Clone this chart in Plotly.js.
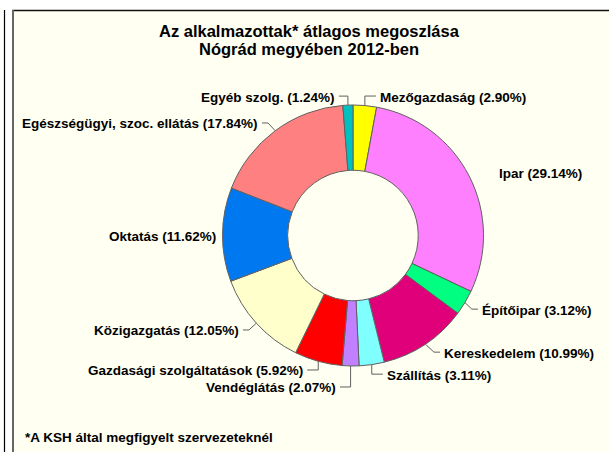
<!DOCTYPE html>
<html>
<head>
<meta charset="utf-8">
<script src="https://cdn.plot.ly/plotly-3.0.1.min.js"></script>
<style>
html,body{margin:0;padding:0;background:#fff;}
#chart{width:609px;height:452px;}
</style>
</head>
<body>
<div id="chart"></div>
<script>
// ---- data ----
var categories = ["Mezőgazdaság", "Ipar", "Építőipar", "Kereskedelem", "Szállítás", "Vendéglátás",
  "Gazdasági szolgáltatások", "Közigazgatás", "Oktatás", "Egészségügyi, szoc. ellátás", "Egyéb szolg."];
var shares = [2.90, 29.14, 3.12, 10.99, 3.11, 2.07, 5.92, 12.05, 11.62, 17.84, 1.24];
var sliceColors = ["#FFFF00", "#FF80FF", "#00FF80", "#E0007A", "#80FFFF", "#C080FF",
  "#FF0000", "#FFFFCC", "#0078F0", "#FF8080", "#00C0C0"];
var titleLines = ["Az alkalmazottak* átlagos megoszlása", "Nógrád megyében 2012-ben"];
var footnote = "*A KSH által megfigyelt szervezeteknél";

// ---- label layout (pixel offsets from slice edge at mid-angle; styling only) ----
var labelOffsets = [[13,-8.5],[28,-3],[15,7.5],[16.7,9],[13,10.5],[-12.6,22],[-13,9.7],[-15.4,7.8],[-5,1.5],[-15.3,-6.7],[-11,-8]];
var leaderStyle = ["v","none","d","d","v","v","v","d","none","d","v"];

var W = 609, H = 452;
var cx = 353, cy = 235.5, R = 130.5;
var FONT = "Arial, 'Liberation Sans', sans-serif";
function px(x){ return x / W; }
function py(y){ return 1 - y / H; }

var total = shares.reduce(function(a,b){return a+b;},0);
var annotations = [];
var shapes = [
  {type:"rect", xref:"paper", yref:"paper", x0:px(12), x1:1, y0:0, y1:py(10), fillcolor:"#FFFFF2", line:{width:0}, layer:"below"},
  {type:"line", xref:"paper", yref:"paper", x0:px(4.5), x1:px(4.5), y0:0, y1:py(10), line:{color:"#000", width:1.2}},
  {type:"line", xref:"paper", yref:"paper", x0:px(12), x1:1, y0:py(10.5), y1:py(10.5), line:{color:"#111", width:1.3}},
  {type:"line", xref:"paper", yref:"paper", x0:px(13), x1:px(13), y0:0, y1:py(10), line:{color:"#666", width:2}}
];

var cum = 0;
for (var i = 0; i < shares.length; i++) {
  var mid = (cum + shares[i] / 2) / total * 2 * Math.PI;
  cum += shares[i];
  var ex = cx + R * Math.sin(mid), ey = cy - R * Math.cos(mid);
  var lx = ex + labelOffsets[i][0], ly = ey + labelOffsets[i][1];
  var right = labelOffsets[i][0] >= 0;
  var txt = categories[i] + " (" + shares[i].toFixed(2) + "%)";
  annotations.push({
    xref:"paper", yref:"paper", x:px(lx), y:py(ly), text:txt, showarrow:false,
    xanchor: right ? "left" : "right", yanchor:"middle",
    font:{family:FONT, size:13.5, color:"#000", weight:"bold"}
  });
  if (leaderStyle[i] !== "none") {
    var sgn = right ? 1 : -1;
    var tx = lx - sgn * 2, ty = ly - 1;
    var bx, by = ty;
    if (leaderStyle[i] === "v") { bx = ex; } else { bx = tx - sgn * 6; }
    shapes.push({
      type:"path", xref:"paper", yref:"paper",
      path:"M " + px(ex) + "," + py(ey) + " L " + px(bx) + "," + py(by) + " L " + px(tx) + "," + py(ty),
      line:{color:"#606060", width:1}
    });
  }
}

annotations.push({xref:"paper", yref:"paper", x:px(309), y:py(31), text:titleLines[0], showarrow:false,
  xanchor:"center", yanchor:"middle", font:{family:FONT, size:16.5, color:"#000", weight:"bold"}});
annotations.push({xref:"paper", yref:"paper", x:px(309), y:py(49), text:titleLines[1], showarrow:false,
  xanchor:"center", yanchor:"middle", font:{family:FONT, size:16.5, color:"#000", weight:"bold"}});
annotations.push({xref:"paper", yref:"paper", x:px(23), y:py(437), text:footnote, showarrow:false,
  xanchor:"left", yanchor:"middle", font:{family:FONT, size:13.5, color:"#000", weight:"bold"}});

var trace = {
  type:"pie", values:shares, labels:categories, sort:false, direction:"clockwise", rotation:0,
  hole:0.5, textinfo:"none", hoverinfo:"label+percent", showlegend:false,
  marker:{colors:sliceColors, line:{color:"#606060", width:1}},
  domain:{x:[px(cx - R), px(cx + R)], y:[py(cy + R), py(cy - R)]}
};

Plotly.newPlot("chart", [trace], {
  width:W, height:H, margin:{l:0,r:0,t:0,b:0}, paper_bgcolor:"#FFFFFF",
  showlegend:false, annotations:annotations, shapes:shapes
}, {displayModeBar:false, staticPlot:true});
</script>
</body>
</html>
